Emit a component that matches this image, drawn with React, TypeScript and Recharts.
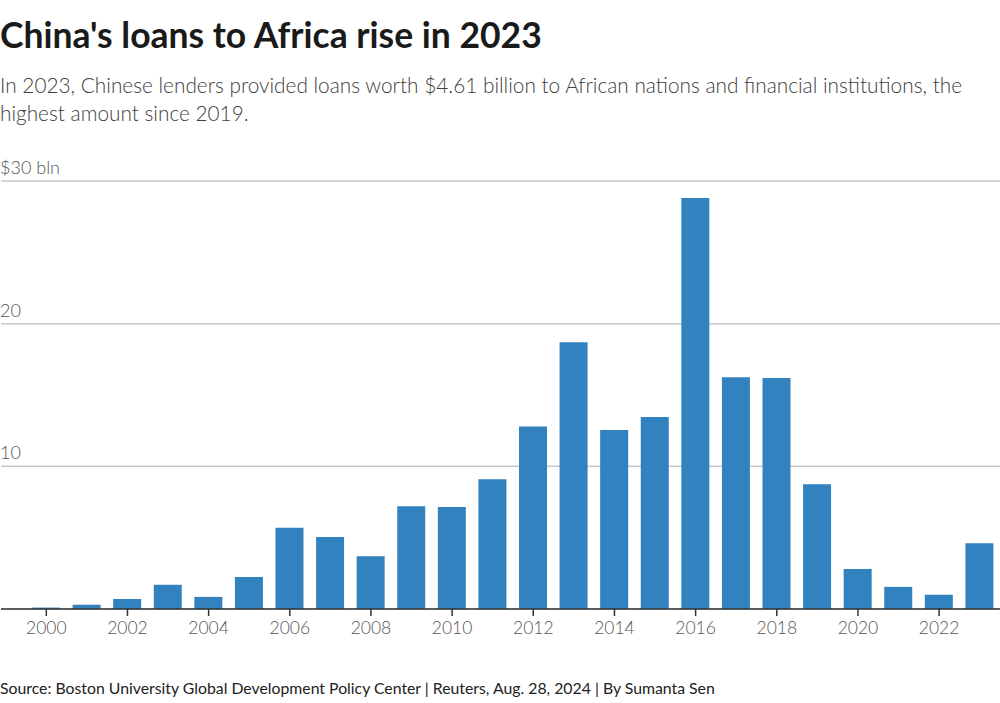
import React from "react";
import { BarChart, Bar, XAxis, YAxis, CartesianGrid } from "recharts";

const years = [
  "2000", "2001", "2002", "2003", "2004", "2005", "2006", "2007", "2008", "2009", "2010", "2011",
  "2012", "2013", "2014", "2015", "2016", "2017", "2018", "2019", "2020", "2021", "2022", "2023",
];
const loans = [
  0.1, 0.3, 0.7, 1.7, 0.85, 2.25, 5.7, 5.05, 3.7, 7.2, 7.15, 9.1,
  12.8, 18.7, 12.55, 13.45, 28.8, 16.25, 16.2, 8.75, 2.8, 1.55, 1.0, 4.61,
];
const yTicks = [0, 10, 20, 30];

const data = years.map((y, i) => ({ year: y, value: loans[i] }));

const FONT = "Lato, 'Noto Sans', sans-serif";

const renderYTick = (props: any) => {
  const { y, payload } = props;
  if (payload.value === 0) return <g />;
  const label = payload.value === 30 ? "$30 bln" : String(payload.value);
  return (
    <text x={0} y={y - 7} textAnchor="start" fill="#555" fontSize={18} fontFamily={FONT} fontWeight={300}>
      {label}
    </text>
  );
};

export default function App() {
  return (
    <div style={{ position: "absolute", left: 0, top: 0, width: 1000, height: 703, background: "#fff", fontFamily: FONT }}>
      <div style={{ position: "absolute", left: 0, top: 13, fontSize: 35.5, fontWeight: 700, color: "#1a1a1a", whiteSpace: "nowrap" }}>
        China's loans to Africa rise in 2023
      </div>
      <div style={{ position: "absolute", left: 0, top: 71, width: 1000, fontSize: 20.8, fontWeight: 300, color: "#404040", lineHeight: "28px" }}>
        In 2023, Chinese lenders provided loans worth $4.61 billion to African nations and financial institutions, the highest amount since 2019.
      </div>
      <div style={{ position: "absolute", left: 0, top: 150 }}>
        <BarChart width={1000} height={520} data={data} margin={{ top: 31, right: 0, bottom: 31, left: 0 }}>
          <CartesianGrid horizontal={true} vertical={false} stroke="#c8c8c8" strokeWidth={1.5} />
          <YAxis
            type="number"
            domain={[0, 30]}
            ticks={yTicks}
            width={1}
            axisLine={false}
            tickLine={false}
            tick={renderYTick}
          />
          <XAxis
            dataKey="year"
            interval={1}
            padding={{ left: 25, right: 0 }}
            axisLine={{ stroke: "#333", strokeWidth: 1.5 }}
            tickLine={{ stroke: "#333", strokeWidth: 1.5 }}
            tickSize={7}
            tick={{ fill: "#555", fontSize: 17.5, fontFamily: FONT, fontWeight: 300 }}
            tickMargin={6}
          />
          <Bar dataKey="value" fill="#3282bf" barSize={28} isAnimationActive={false} />
        </BarChart>
      </div>
      <div style={{ position: "absolute", left: 0, top: 678, fontSize: 15.8, color: "#222", whiteSpace: "nowrap" }}>
        Source: Boston University Global Development Policy Center | Reuters, Aug. 28, 2024 | By Sumanta Sen
      </div>
    </div>
  );
}
